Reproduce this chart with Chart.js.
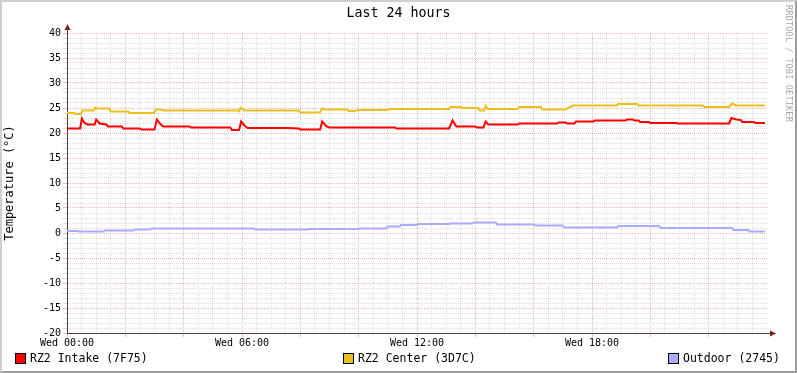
<!doctype html>
<html lang="en">
<head>
<meta charset="utf-8">
<title>Last 24 hours</title>
<style>
  * { margin: 0; padding: 0; }
  body { background: #fff; font-family: "DejaVu Sans Mono", monospace; }
  .graph { position: relative; width: 797px; height: 373px; background: #fff; }
  .frame {
    position: absolute; left: 0; top: 0; width: 797px; height: 373px;
    box-sizing: border-box; pointer-events: none;
    border-top: 2px solid #cfcfcf; border-left: 2px solid #cfcfcf;
    border-right: 2px solid #9e9e9e; border-bottom: 2px solid #9e9e9e;
  }
  .title { position: absolute; top: 5px; left: 0; width: 797px; text-align: center; font-size: 13.3px; color: #000; }
  .brand { position: absolute; top: 5px; left: 784px; writing-mode: vertical-rl; font-size: 8.5px; color: #a8a8a8; letter-spacing: 0.2px; }
  .sw { position: absolute; top: 353px; width: 9px; height: 9px; border: 1px solid #000; }
  .lbl { position: absolute; top: 351px; font-size: 11.5px; line-height: 14px; color: #000; white-space: pre; }
</style>
</head>
<body>
<div class="graph">
  <canvas id="tempChart" width="797" height="373"></canvas>
  <div class="title">Last 24 hours</div>
  <div class="brand">RRDTOOL / TOBI OETIKER</div>
  <div class="sw" style="left:15px;background:#ff0000"></div>
  <div class="lbl" style="left:30px">RZ2 Intake (7F75)</div>
  <div class="sw" style="left:343px;background:#e9c01e"></div>
  <div class="lbl" style="left:358px">RZ2 Center (3D7C)</div>
  <div class="sw" style="left:668px;background:#aaaaff"></div>
  <div class="lbl" style="left:683px">Outdoor (2745)</div>
  <div class="frame"></div>
</div>
<script src="https://cdn.jsdelivr.net/npm/chart.js"></script>
<script>
// setup: hours since Wed 00:00 and temperatures in °C
const intakeHours = [0, 0.45, 0.51, 0.60, 0.70, 0.95, 1.00, 1.12, 1.35, 1.40, 1.88, 1.93, 2.50, 2.55, 3.00, 3.08, 3.20, 3.30, 4.20, 4.25,
  5.60, 5.65, 5.90, 5.97, 6.10, 6.20, 7.55, 7.95, 8.00, 8.68, 8.75, 8.90, 9.00, 11.25, 11.30, 13.10, 13.22, 13.35, 14.00, 14.05,
  14.28, 14.35, 14.45, 15.45, 15.50, 16.80, 16.85, 17.10, 17.15, 17.40, 17.45, 18.05, 18.10, 19.15, 19.20, 19.40, 19.45, 19.60, 19.65, 19.95,
  20.00, 20.90, 20.95, 22.70, 22.78, 22.95, 23.10, 23.15, 23.55, 23.60, 23.93];
const intakeTemps = [20.9, 20.9, 22.9, 22.0, 21.7, 21.7, 22.7, 21.9, 21.7, 21.3, 21.3, 20.9, 20.9, 20.7, 20.7, 22.7, 21.8, 21.3, 21.3, 21.1,
  21.1, 20.6, 20.6, 22.3, 21.4, 21.0, 21.0, 20.9, 20.7, 20.7, 22.3, 21.3, 21.1, 21.1, 20.9, 20.9, 22.5, 21.3, 21.3, 21.1,
  21.1, 22.3, 21.7, 21.7, 21.9, 21.9, 22.1, 22.1, 21.9, 21.9, 22.3, 22.3, 22.5, 22.5, 22.7, 22.7, 22.5, 22.5, 22.2, 22.2,
  22.0, 22.0, 21.9, 21.9, 23.0, 22.7, 22.6, 22.2, 22.2, 22.0, 22.0];

const centerHours = [0, 0.25, 0.28, 0.48, 0.52, 0.92, 0.97, 1.05, 1.45, 1.50, 2.10, 2.15, 2.98, 3.05, 3.20, 3.30, 5.85, 5.90, 5.95, 6.10,
  7.95, 8.00, 8.68, 8.75, 8.85, 9.60, 9.65, 9.90, 9.95, 11.00, 11.05, 13.10, 13.15, 13.50, 13.55, 14.10, 14.15, 14.30, 14.35, 14.42,
  15.45, 15.50, 16.25, 16.30, 17.10, 17.20, 17.35, 18.85, 18.90, 19.55, 19.60, 21.80, 21.85, 22.70, 22.80, 22.95, 23.93];
const centerTemps = [24.0, 24.0, 23.8, 23.8, 24.5, 24.5, 25.1, 24.9, 24.9, 24.3, 24.3, 24.0, 24.0, 24.7, 24.7, 24.5, 24.5, 24.3, 25.0, 24.5,
  24.5, 24.1, 24.1, 24.9, 24.7, 24.7, 24.4, 24.4, 24.6, 24.6, 24.8, 24.8, 25.2, 25.2, 25.0, 25.0, 24.5, 24.5, 25.4, 24.8,
  24.8, 25.2, 25.2, 24.7, 24.7, 25.1, 25.5, 25.5, 25.8, 25.8, 25.5, 25.5, 25.2, 25.2, 25.9, 25.5, 25.5];

const outdoorHours = [0, 0.35, 0.40, 1.25, 1.30, 2.28, 2.33, 2.85, 2.90, 6.40, 6.45, 8.25, 8.30, 10.00, 10.05, 10.95, 11.00, 11.40, 11.45, 12.00,
  12.05, 13.10, 13.15, 13.90, 13.95, 14.70, 14.75, 16.00, 16.05, 17.00, 17.05, 18.85, 18.90, 20.30, 20.35, 22.80, 22.85, 23.35, 23.40, 23.93];
const outdoorTemps = [0.4, 0.4, 0.3, 0.3, 0.5, 0.5, 0.7, 0.7, 0.9, 0.9, 0.7, 0.7, 0.8, 0.8, 0.9, 0.9, 1.3, 1.3, 1.6, 1.6,
  1.8, 1.8, 1.9, 1.9, 2.1, 2.1, 1.7, 1.7, 1.5, 1.5, 1.1, 1.1, 1.4, 1.4, 1.0, 1.0, 0.6, 0.6, 0.3, 0.3];

const xTickHours = [];
for (let h = 0; h < 24; h += 0.5) xTickHours.push(h);
const xTickLabels = { 0: 'Wed 00:00', 6: 'Wed 06:00', 12: 'Wed 12:00', 18: 'Wed 18:00' };
const yTickValues = [];
for (let v = -20; v <= 40; v++) yTickValues.push(v);

const toPoints = (hours, temps) => hours.map((h, i) => ({ x: h, y: temps[i] }));

const majorGrid = 'rgba(230, 140, 140, 0.6)';
const minorGrid = 'rgba(200, 200, 200, 0.6)';
const axisColor = '#4a4040';

// arrows at the end of both axes
const axisArrows = {
  id: 'axisArrows',
  afterDraw(chart) {
    const { ctx, chartArea: a } = chart;
    ctx.save();
    ctx.strokeStyle = axisColor;
    ctx.lineWidth = 1;
    ctx.beginPath();
    ctx.moveTo(a.left + 0.5, a.top);
    ctx.lineTo(a.left + 0.5, a.top - 4);
    ctx.moveTo(a.right, a.bottom + 0.5);
    ctx.lineTo(a.right + 4, a.bottom + 0.5);
    ctx.stroke();
    ctx.fillStyle = '#7f2020';
    ctx.beginPath();
    ctx.moveTo(a.left + 0.5, a.top - 9);
    ctx.lineTo(a.left - 2.5, a.top - 3);
    ctx.lineTo(a.left + 3.5, a.top - 3);
    ctx.closePath();
    ctx.fill();
    ctx.beginPath();
    ctx.moveTo(a.right + 9, a.bottom + 0.5);
    ctx.lineTo(a.right + 3, a.bottom - 2.5);
    ctx.lineTo(a.right + 3, a.bottom + 3.5);
    ctx.closePath();
    ctx.fill();
    ctx.restore();
  }
};

Chart.defaults.font.family = '"DejaVu Sans Mono", monospace';
Chart.defaults.color = '#000';

const config = {
  type: 'line',
  data: {
    datasets: [
      { label: 'RZ2 Intake (7F75)', data: toPoints(intakeHours, intakeTemps), borderColor: '#ff0000' },
      { label: 'RZ2 Center (3D7C)', data: toPoints(centerHours, centerTemps), borderColor: '#e9c01e' },
      { label: 'Outdoor (2745)', data: toPoints(outdoorHours, outdoorTemps), borderColor: '#aaaaff' }
    ]
  },
  options: {
    responsive: false,
    animation: false,
    layout: { padding: { left: 0, top: 33, right: 30, bottom: 24 } },
    elements: {
      point: { radius: 0 },
      line: { borderWidth: 2, tension: 0, fill: false, borderJoinStyle: 'miter', borderCapStyle: 'butt' }
    },
    plugins: {
      legend: { display: false },
      title: { display: false },
      tooltip: { enabled: false }
    },
    scales: {
      x: {
        type: 'linear',
        min: 0,
        max: 24,
        afterBuildTicks: s => { s.ticks = xTickHours.map(v => ({ value: v })); },
        afterFit: s => { s.height = 16; },
        ticks: {
          autoSkip: false,
          maxRotation: 0,
          padding: 0,
          font: { size: 10 },
          callback: v => xTickLabels[v] || ''
        },
        grid: {
          color: c => (c.tick && c.tick.value % 2 === 0) ? majorGrid : minorGrid,
          tickColor: c => (c.tick && c.tick.value % 2 === 0) ? majorGrid : 'rgba(0,0,0,0)',
          tickLength: 4,
          lineWidth: 1
        },
        border: { color: axisColor, width: 1, dash: [1, 1] }
      },
      y: {
        min: -20,
        max: 40,
        afterBuildTicks: s => { s.ticks = yTickValues.map(v => ({ value: v })); },
        afterFit: s => { s.width = 67; },
        ticks: {
          autoSkip: false,
          padding: 2,
          font: { size: 10 },
          callback: v => (v % 5 === 0 ? String(v) : '')
        },
        grid: {
          color: c => (c.tick && c.tick.value % 5 === 0) ? majorGrid : minorGrid,
          tickColor: c => (c.tick && c.tick.value % 5 === 0) ? majorGrid : minorGrid,
          tickLength: 4,
          lineWidth: 1
        },
        border: { color: axisColor, width: 1, dash: [1, 1] },
        title: {
          display: true,
          text: 'Temperature (°C)',
          font: { size: 12 },
          padding: { top: 3, bottom: 0 }
        }
      }
    }
  },
  plugins: [axisArrows]
};

const tempChart = new Chart(document.getElementById('tempChart'), config);
</script>
</body>
</html>
